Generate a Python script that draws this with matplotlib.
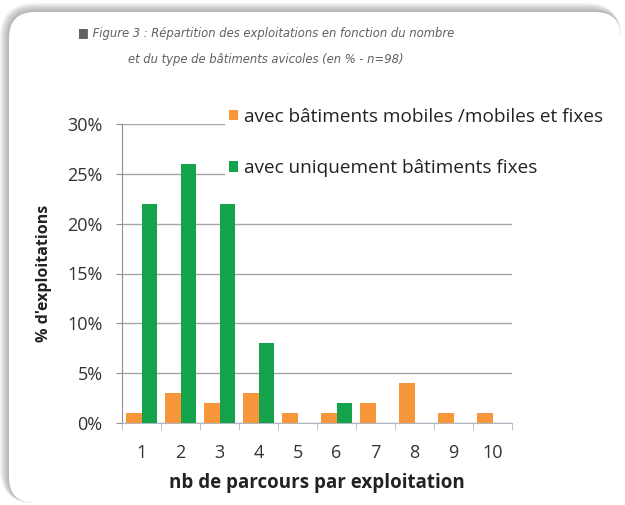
import numpy as np
import matplotlib
matplotlib.use('Agg')
import matplotlib.pyplot as plt
from matplotlib.patches import FancyBboxPatch

categories = ['1', '2', '3', '4', '5', '6', '7', '8', '9', '10']
mobiles = [1, 3, 2, 3, 1, 1, 2, 4, 1, 1]
fixes = [22, 26, 22, 8, 0, 2, 0, 0, 0, 0]
yticks = [0, 5, 10, 15, 20, 25, 30]
label_mob = 'avec bâtiments mobiles /mobiles et fixes'
label_fix = 'avec uniquement bâtiments fixes'
title1 = '■ Figure 3 : Répartition des exploitations en fonction du nombre'
title2 = 'et du type de bâtiments avicoles (en % - n=98)'

orange = '#F7963A'
green = '#14A24B'
W, H = 625, 505

plt.rcParams['font.family'] = ['Open Sans', 'DejaVu Sans']
fig = plt.figure(figsize=(W / 100, H / 100), dpi=100)

# background card (pixel coords)
bg = fig.add_axes([0, 0, 1, 1], zorder=0)
bg.set_xlim(0, W)
bg.set_ylim(H, 0)
bg.set_axis_off()
for k in range(9, 0, -1):
    bg.add_patch(FancyBboxPatch((9 - k, 12 - k), 612 + k, 491 + k,
                                boxstyle='round,pad=0,rounding_size=%d' % (26 + k),
                                fc='#707070', ec='none', alpha=0.07))
bg.add_patch(FancyBboxPatch((9, 12), 612, 491, boxstyle='round,pad=0,rounding_size=26',
                            fc='white', ec='none'))

tfont = dict(ha='center', va='center', fontsize=9.3, style='italic', color='#606060',
             family='DejaVu Sans', stretch='condensed')
fig.text(266 / W, 1 - 33 / H, title1, **tfont)
fig.text(266 / W, 1 - 60 / H, title2, **tfont)

ax = fig.add_axes([122 / W, 1 - 423 / H, 390 / W, 299 / H], zorder=2)
ax.patch.set_alpha(0)
x = np.arange(len(categories))
w = 0.4
b1 = ax.bar(x - w / 2, mobiles, w, color=orange, label=label_mob, zorder=3)
b2 = ax.bar(x + w / 2, fixes, w, color=green, label=label_fix, zorder=3)

ax.set_xlim(-0.5, len(categories) - 0.5)
ax.set_ylim(0, 30)
ax.set_yticks(yticks)
ax.set_yticklabels(['%d%%' % v for v in yticks])
ax.set_xticks(x)
ax.set_xticklabels(categories)
ax.set_xticks(np.arange(len(categories) + 1) - 0.5, minor=True)
ax.tick_params(axis='x', which='major', length=0, pad=15, labelsize=13, colors='#333333')
ax.tick_params(axis='x', which='minor', length=5, color='#b0b8c4')
ax.tick_params(axis='y', length=4, color='#909090', pad=10, labelsize=13, labelcolor='#333333')
ax.grid(axis='y', color='#a6a6a6', lw=1, zorder=1)
for s in ['top', 'right']:
    ax.spines[s].set_visible(False)
ax.spines['left'].set_color('#909090')
ax.spines['bottom'].set_color('#b0b8c4')
ax.set_xlabel('nb de parcours par exploitation', fontsize=13.5, fontweight='bold',
              color='#222222', labelpad=8)
ax.set_ylabel("% d'exploitations", fontsize=11.5, fontweight='bold', color='#222222', labelpad=11)

leg = fig.legend(handles=[b1, b2], loc='upper left', bbox_to_anchor=(225 / W, 1 - 104 / H),
                 frameon=True, facecolor='white', edgecolor='none', framealpha=1,
                 fontsize=13.7, handlelength=0.5, handleheight=0.5, handletextpad=0.3,
                 labelspacing=1.75, borderpad=0.2, borderaxespad=0)
leg.set_zorder(5)
for t in leg.get_texts():
    t.set_color('#222222')

fig.savefig('out.png', dpi=100)
